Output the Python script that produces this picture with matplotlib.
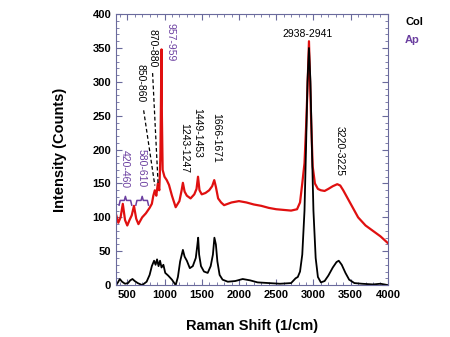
import matplotlib
matplotlib.use("Agg")
import matplotlib.pyplot as plt
from matplotlib.ticker import MultipleLocator

plt.rcParams['font.family'] = ['Liberation Sans', 'DejaVu Sans']

# Ap spectrum (red)
ap_shift = [350, 380, 410, 440, 470, 500, 530, 560, 590, 620, 650, 700, 750, 800,
            830, 850, 870, 890, 910, 930, 945, 955, 960, 965, 975, 1000, 1030,
            1060, 1100, 1150, 1200, 1230, 1247, 1270, 1300, 1350, 1400, 1430,
            1450, 1470, 1500, 1550, 1600, 1640, 1668, 1690, 1720, 1760, 1800,
            1900, 2000, 2100, 2200, 2300, 2400, 2500, 2600, 2700, 2780, 2820,
            2850, 2880, 2900, 2920, 2940, 2955, 2970, 2990, 3020, 3060, 3100,
            3150, 3200, 3260, 3320, 3360, 3400, 3450, 3500, 3550, 3600, 3650,
            3700, 3750, 3800, 3850, 3900, 3950, 4000]
ap_counts = [104, 92, 100, 120, 96, 88, 96, 103, 117, 98, 90, 100, 106, 114,
             120, 132, 140, 132, 150, 140, 190, 300, 348, 250, 170, 160, 155,
             148, 132, 115, 124, 140, 151, 138, 132, 128, 134, 142,
             160, 140, 134, 136, 140, 146, 155, 145, 128, 122, 118,
             122, 124, 122, 119, 117, 114, 112, 111, 110, 112, 122,
             150, 180, 230, 290, 360, 300, 240, 175, 150, 142, 140,
             139, 142, 146, 149, 147, 140, 130, 120, 110, 100, 94,
             88, 84, 80, 76, 72, 67, 62]

# Col spectrum (black)
col_shift = [350, 380, 400, 430, 470, 510, 540, 570, 600, 640, 700, 760, 800,
             830, 860, 880, 900, 920, 940, 960, 985, 1010, 1050, 1100, 1150,
             1180, 1210, 1247, 1270, 1300, 1340, 1380, 1420, 1440, 1452, 1465,
             1490, 1530, 1580, 1620, 1650, 1670, 1690, 1710, 1740, 1780, 1850,
             1950, 2050, 2150, 2250, 2400, 2550, 2700, 2760, 2790, 2820, 2850,
             2880, 2900, 2920, 2940, 2960, 2980, 3000, 3030, 3060, 3100, 3150,
             3200, 3260, 3310, 3340, 3380, 3430, 3480, 3550, 3650, 3800, 3900,
             4000]
col_counts = [0, 5, 9, 5, 2, 3, 7, 9, 6, 3, 0, 5, 15,
              28, 36, 30, 38, 28, 36, 26, 30, 18, 14, 8, 0,
              12, 35, 52, 42, 36, 25, 28, 40, 58, 70, 45,
              28, 20, 18, 28, 45, 70, 60, 35, 15, 8, 5,
              6, 9, 7, 4, 3, 2, 3, 10, 12, 20, 45,
              110, 200, 300, 350, 300, 200, 110, 40, 12, 4, 6,
              14, 26, 34, 36, 30, 18, 8, 3, 2, 1, 2,
              0]

x_ticks = [500, 1000, 1500, 2000, 2500, 3000, 3500, 4000]
y_ticks = [0, 50, 100, 150, 200, 250, 300, 350, 400]

purple = '#6b3fa0'
spine_col = '#6a6a9c'

fig = plt.figure(figsize=(4.5, 3.37), dpi=100)
ax = fig.add_axes([0.258, 0.154, 0.604, 0.804])

ax.plot(ap_shift, ap_counts, color='#e01010', lw=1.6)
ax.plot(col_shift, col_counts, color='black', lw=1.3)

ax.set_xlim(350, 4000)
ax.set_ylim(0, 400)
ax.set_xticks(x_ticks)
ax.set_yticks(y_ticks)
ax.xaxis.set_minor_locator(MultipleLocator(100))
ax.yaxis.set_minor_locator(MultipleLocator(10))
ax.tick_params(which='both', direction='in', top=True, right=True,
               color=spine_col, labelsize=8)
ax.tick_params(which='major', length=4)
ax.tick_params(which='minor', length=2)
for lab in ax.get_xticklabels() + ax.get_yticklabels():
    lab.set_fontweight('bold')
for s in ax.spines.values():
    s.set_color(spine_col)
    s.set_linewidth(0.8)

ax.set_xlabel('Raman Shift (1/cm)', fontsize=10.5, fontweight='bold', labelpad=14)
ax.set_ylabel('Intensity (Counts)', fontsize=10.5, fontweight='bold', labelpad=18)

# peak annotations
txt = dict(rotation=-90, fontsize=7.5, ha='center', va='center')
ax.text(1085, 358, '957-959', color=purple, **txt)
ax.text(838, 350, '870-880', color='black', **txt)
ax.text(680, 298, '850-860', color='black', **txt)
ax.text(1262, 202, '1243-1247', color='black', **txt)
ax.text(1440, 225, '1449-1453', color='black', **txt)
ax.text(1695, 217, '1666-1671', color='black', **txt)
ax.text(3355, 198, '3220-3225', color='black', **txt)
ax.text(470, 172, '420-460', color=purple, **txt)
ax.text(690, 172, '580-610', color=purple, **txt)
ax.text(2920, 370, '2938-2941', color='black', fontsize=7.5, ha='center', va='center')

ax.plot([840, 915], [313, 147], color='black', lw=0.9, ls='--', dashes=(3, 2))
ax.plot([720, 870], [258, 147], color='black', lw=0.9, ls='--', dashes=(3, 2))

# curly brackets under the purple labels
for lo, hi in [(390, 560), (615, 785)]:
    mid = (lo + hi) / 2
    ax.plot([lo, lo + 15, mid - 15, mid, mid + 15, hi - 15, hi],
            [118, 125, 125, 131, 125, 125, 118], color=purple, lw=1.1)

fig.text(0.9, 0.935, 'Col', color='black', fontsize=8, fontweight='bold', va='center')
fig.text(0.9, 0.88, 'Ap', color=purple, fontsize=8, fontweight='bold', va='center')

fig.savefig('out.png', dpi=100)
